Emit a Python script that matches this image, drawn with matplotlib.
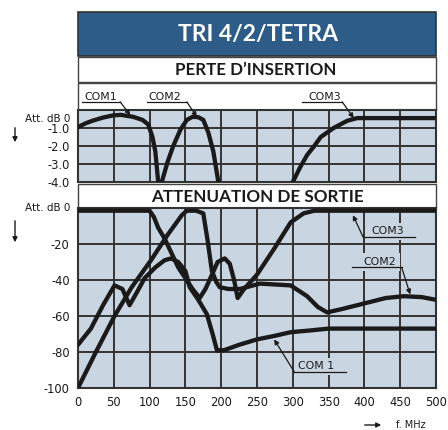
"""
plot.py
-------
TRI 4/2/TETRA triplexer response: insertion loss (top) and output
attenuation (bottom) for the three ports COM1 / COM2 / COM3.
"""

import matplotlib
matplotlib.use("Agg")

import matplotlib.pyplot as plt
from matplotlib.patches import Rectangle

# --- data --------------------------------------------------------------
freq_ticks = [0, 50, 100, 150, 200, 250, 300, 350, 400, 450, 500]
loss_ticks = [-1.0, -2.0, -3.0, -4.0]
att_ticks = [-20, -40, -60, -80, -100]

# insertion loss (dB)
il_com1_f = [0, 10, 20, 35, 49, 60, 77, 90, 98, 104, 108, 112]
il_com1_db = [-0.95, -0.75, -0.6, -0.42, -0.3, -0.27, -0.38, -0.55, -0.8, -1.5, -2.3, -4.0]
il_com2_f = [117, 125, 133, 143, 152, 160, 168, 175, 182, 189, 196]
il_com2_db = [-4.0, -2.9, -2.0, -1.1, -0.55, -0.38, -0.4, -0.55, -1.25, -2.3, -4.0]
il_com3_f = [300, 310, 320, 330, 339, 357, 376, 390, 420, 500]
il_com3_db = [-4.0, -3.2, -2.5, -2.0, -1.5, -1.0, -0.6, -0.45, -0.45, -0.45]

# output attenuation (dB)
at_com1_f = [0, 18, 35, 51, 62, 72, 82, 93, 108, 121, 130, 140, 150, 156, 168,
             180, 188, 194, 204, 225, 250, 275, 297, 325, 350, 400, 450, 500]
at_com1_db = [-76, -67, -54, -43, -45, -54, -47, -39, -33, -29, -28, -30, -35, -44, -51,
              -59, -70, -79, -79, -76, -73, -71, -69, -68, -67, -67, -67, -67]
at_com2_f = [0, 25, 51, 75, 102, 125, 145, 152, 165, 175, 181, 187, 193, 198,
             210, 226, 254, 297, 320, 335, 348, 370, 400, 430, 455, 480, 500]
at_com2_db = [-100, -80, -60, -44, -29, -15, -4, -1.5, -1.5, -3, -18, -35, -41, -44,
              -45, -45, -42, -43, -49, -55, -58, -56, -53, -50, -49, -49.5, -51]
at_com3_f = [0, 50, 100, 106, 112, 121, 140, 160, 170, 178, 186, 195, 205, 212,
             218, 223, 232, 250, 275, 297, 315, 330, 400, 500]
at_com3_db = [-1.5, -1.5, -1.5, -5, -11, -17, -33, -45, -50, -45, -38, -30, -28, -31,
              -40, -50, -45, -37, -22, -8, -3, -1.5, -1.5, -1.5]

# --- styling -------------------------------------------------------------
W, H = 448, 430
BLUE = "#2d5c88"
PANEL = "#c9d5e1"
GRID = "#333333"
INK = "#1a1a1a"
CURVE_LW = 3.1

plt.rcParams["font.family"] = ["DejaVu Sans"]


def frac(x0, y0, x1, y1):
    """Pixel box -> figure fraction [left, bottom, width, height]."""
    return [x0 / W, 1 - y1 / H, (x1 - x0) / W, (y1 - y0) / H]


fig = plt.figure(figsize=(W / 100, H / 100), dpi=100)

# background / decoration layer in pixel coordinates
bg = fig.add_axes([0, 0, 1, 1])
bg.set_xlim(0, W)
bg.set_ylim(H, 0)
bg.axis("off")

bg.add_patch(Rectangle((78, 12), 358, 44, facecolor=BLUE, edgecolor="#333333", lw=1.2))
bg.text(258, 35, "TRI 4/2/TETRA", color="white", fontsize=16.5, fontweight="bold",
        family="Lato", ha="center", va="center")
bg.add_patch(Rectangle((78, 57), 358, 25, facecolor="white", edgecolor="#444444", lw=1.0))
bg.text(256, 70, "PERTE D\u2019INSERTION", color=INK, fontsize=12.2, fontweight="bold",
        family="Lato", ha="center", va="center")
bg.add_patch(Rectangle((78, 83), 358, 27, facecolor="white", edgecolor="#444444", lw=1.0))
bg.add_patch(Rectangle((78, 184), 358, 24, facecolor="white", edgecolor="#444444", lw=1.0))
bg.text(257, 197, "ATTENUATION DE SORTIE", color=INK, fontsize=12.3, fontweight="bold",
        family="Lato", ha="center", va="center")

bg.text(70, 119, "Att. dB 0", fontsize=7.5, ha="right", va="center", color=INK)
bg.text(70, 208, "Att. dB 0", fontsize=7.5, ha="right", va="center", color=INK)
for y0, y1 in [(125, 145), (218, 245)]:
    bg.annotate("", xy=(15, y1), xytext=(15, y0),
                arrowprops=dict(arrowstyle="-|>", color=INK, lw=1.0, mutation_scale=7))
bg.annotate("", xy=(384, 425), xytext=(362, 425),
            arrowprops=dict(arrowstyle="-|>", color=INK, lw=1.0, mutation_scale=7))
bg.text(396, 425, "f. MHz", fontsize=7, ha="left", va="center", color=INK)


def style_axes(ax, ylim, yticks, ylabels, show_x):
    ax.set_facecolor(PANEL)
    ax.set_xlim(0, 500)
    ax.set_ylim(*ylim)
    ax.set_xticks(freq_ticks)
    ax.set_yticks(yticks)
    ax.set_yticklabels(ylabels, fontsize=8.3, color=INK)
    if show_x:
        ax.set_xticklabels([str(f) for f in freq_ticks], fontsize=8.3, color=INK)
    else:
        ax.set_xticklabels([])
    ax.tick_params(length=0, pad=6)
    ax.grid(True, color=GRID, lw=1.4)
    ax.set_axisbelow(True)
    for s in ax.spines.values():
        s.set_color("#333333")
        s.set_linewidth(1.5)


def com_label(ax, text, tx, ty, u0, u1, uy, tip, boxed=False):
    """Underlined port label with a leader line ending in an arrow."""
    kw = {}
    if boxed:
        kw["bbox"] = dict(boxstyle="square,pad=0.35", facecolor=PANEL, edgecolor="none")
    ax.text(tx, ty, text, fontsize=7.8, ha="center", va="center", color=INK,
            clip_on=False, zorder=4, **kw)
    ax.plot([u0, u1], [uy, uy], color=INK, lw=0.9, clip_on=False, zorder=5)
    start = (u1, uy) if tip[0] > u1 - (u1 - u0) / 2 else (u0, uy)
    ax.annotate("", xy=tip, xytext=start, annotation_clip=False, zorder=5,
                arrowprops=dict(arrowstyle="-|>", color=INK, lw=0.9,
                                mutation_scale=7, shrinkA=0, shrinkB=0))


# --- insertion loss ------------------------------------------------------
ax1 = fig.add_axes(frac(78, 110, 436, 182))
style_axes(ax1, (-4, 0), loss_ticks, [f"{v:.1f}" for v in loss_ticks], False)
for f, db in [(il_com1_f, il_com1_db), (il_com2_f, il_com2_db), (il_com3_f, il_com3_db)]:
    ax1.plot(f, db, color=INK, lw=CURVE_LW, solid_capstyle="round",
             solid_joinstyle="round", zorder=3)
com_label(ax1, "COM1", 31, 0.75, 6, 59, 0.45, (73, -0.28))
com_label(ax1, "COM2", 121, 0.75, 96, 152, 0.45, (166, -0.38))
com_label(ax1, "COM3", 344, 0.75, 313, 369, 0.45, (385, -0.45))

# --- output attenuation --------------------------------------------------
ax2 = fig.add_axes(frac(78, 208, 436, 388))
style_axes(ax2, (-100, 0), att_ticks, [str(v) for v in att_ticks], True)
for f, db in [(at_com1_f, at_com1_db), (at_com2_f, at_com2_db), (at_com3_f, at_com3_db)]:
    ax2.plot(f, db, color=INK, lw=CURVE_LW, solid_capstyle="round",
             solid_joinstyle="round", zorder=3)
com_label(ax2, "COM3", 432, -13, 398, 471, -16, (384, -4), boxed=True)
com_label(ax2, "COM2", 422, -30, 383, 452, -33, (464, -48), boxed=True)
com_label(ax2, "COM 1", 332, -88, 302, 374, -91, (274, -73), boxed=True)

fig.savefig("out.png", dpi=100)
